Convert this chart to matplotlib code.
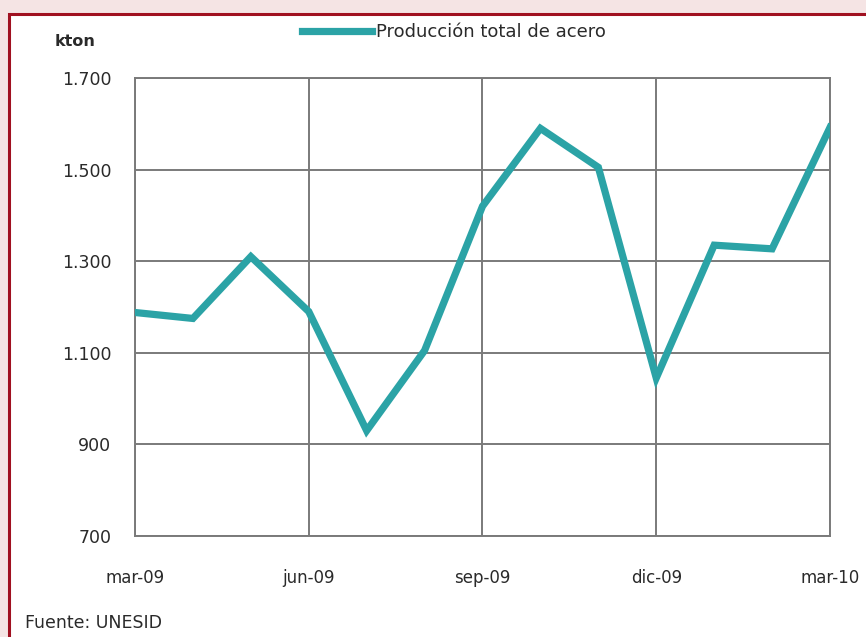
import matplotlib
matplotlib.use("Agg")
import matplotlib.pyplot as plt
from matplotlib.patches import Rectangle

months = ["mar-09", "abr-09", "may-09", "jun-09", "jul-09", "ago-09", "sep-09",
          "oct-09", "nov-09", "dic-09", "ene-10", "feb-10", "mar-10"]
produccion = [1188, 1175, 1310, 1190, 930, 1105, 1420, 1590, 1505, 1045, 1335, 1327, 1592]
tick_labels = ["mar-09", "jun-09", "sep-09", "dic-09", "mar-10"]
y_ticks = [700, 900, 1100, 1300, 1500, 1700]
y_tick_labels = ["700", "900", "1.100", "1.300", "1.500", "1.700"]

W, H = 866, 637
plt.rcParams['font.family'] = ['DejaVu Sans']
fig = plt.figure(figsize=(W / 100, H / 100), dpi=100, facecolor="white")

FS = 12
TXT = "#2a2a2a"

# outer pink margin and dark red border
fig.patches.append(Rectangle((0, 1 - 13 / H), 1, 13 / H, transform=fig.transFigure,
                             facecolor="#f5e4e4", edgecolor="none", zorder=0))
fig.patches.append(Rectangle((0, 0), 8 / W, 1, transform=fig.transFigure,
                             facecolor="#f5e4e4", edgecolor="none", zorder=0))
fig.patches.append(Rectangle((8.5 / W, -0.1), 1.2, 1 - 13.5 / H + 0.1, transform=fig.transFigure,
                             facecolor="none", edgecolor="#a01020", linewidth=2.2, zorder=1))

ax = fig.add_axes([135 / W, 1 - 536 / H, (830 - 135) / W, (536 - 78) / H])
x = list(range(len(months)))
ax.plot(x, produccion, color="#2ba3a6", linewidth=5.2, solid_joinstyle="miter",
        label="Producción total de acero", zorder=3)

ax.set_xlim(0, len(months) - 1)
ax.set_ylim(700, 1700)
ax.set_yticks(y_ticks)
ax.set_yticklabels(y_tick_labels, fontsize=FS + 0.5, color=TXT)
ax.set_xticks([0, 3, 6, 9, 12])
ax.set_xticklabels(tick_labels, fontsize=FS, color=TXT)
ax.tick_params(axis="both", length=0)
ax.tick_params(axis="x", pad=24)
ax.tick_params(axis="y", pad=17)
ax.grid(True, color="#7a7a7a", linewidth=1.4, zorder=1)
for s in ax.spines.values():
    s.set_color("#7a7a7a")
    s.set_linewidth(1.4)

leg = fig.legend(loc="center left", bbox_to_anchor=(302 / W, 1 - 32 / H), frameon=False,
                 fontsize=FS + 1, handlelength=3.85, handletextpad=0.25, borderpad=0,
                 borderaxespad=0)
for t in leg.get_texts():
    t.set_color(TXT)

fig.text(55 / W, 1 - 42 / H, "kton", fontsize=FS - 0.5, fontweight="bold", color=TXT,
         ha="left", va="center")
fig.text(25 / W, 1 - 623 / H, "Fuente: UNESID", fontsize=FS + 0.5, color=TXT,
         ha="left", va="center")

fig.savefig("out.png", dpi=100, facecolor="white")
